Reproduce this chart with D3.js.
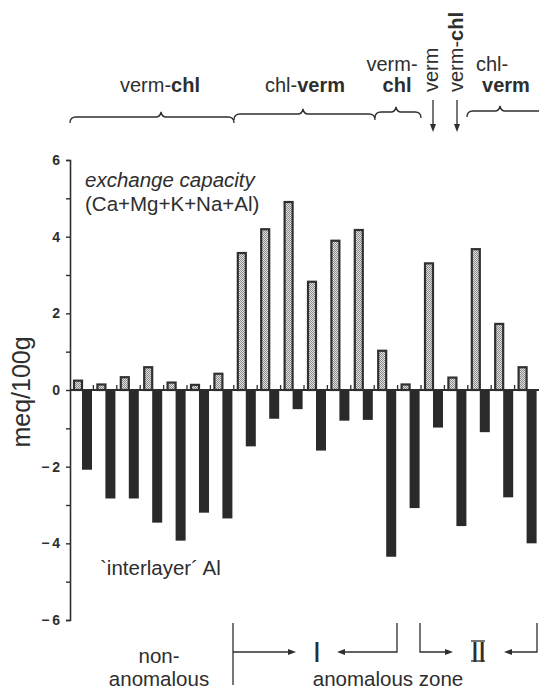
<!DOCTYPE html>
<html>
<head>
<meta charset="utf-8">
<script src="https://cdn.jsdelivr.net/npm/d3@7"></script>
<style>
  html, body { margin: 0; padding: 0; background: #fff; }
  svg { display: block; }
  text { font-family: "Liberation Sans", Arial, sans-serif; fill: #2e2e2e; }
</style>
</head>
<body>
<svg id="chart" width="539" height="689"></svg>
<script>
// Samples along the profile, left to right
const samples = d3.range(1, 21);
// Exchange capacity (Ca+Mg+K+Na+Al), meq/100g
const exchangeCapacity = [0.27, 0.17, 0.36, 0.62, 0.22, 0.16, 0.45, 3.6, 4.22, 4.93,
                          2.85, 3.92, 4.2, 1.05, 0.17, 3.33, 0.35, 3.7, 1.75, 0.62];
// 'Interlayer' Al, meq/100g (plotted downwards)
const interlayerAl = [-2.08, -2.83, -2.83, -3.46, -3.93, -3.2, -3.35, -1.47, -0.75, -0.5,
                      -1.58, -0.8, -0.78, -4.35, -3.08, -0.98, -3.55, -1.1, -2.8, -4.0];
const yTicks = [-6, -5, -4, -3, -2, -1, 0, 1, 2, 3, 4, 5, 6];
const yLabelTicks = [-6, -4, -2, 0, 2, 4, 6];

const ink = "#2e2e2e";
const svg = d3.select("#chart");

const x = d3.scaleBand().domain(samples).range([70, 538]).padding(0);
const y = d3.scaleLinear().domain([-6, 6]).range([620, 160]);

// stipple fill for the exchange-capacity bars
const defs = svg.append("defs");
const pat = defs.append("pattern").attr("id", "stipple")
  .attr("width", 2).attr("height", 2).attr("patternUnits", "userSpaceOnUse");
pat.append("rect").attr("width", 2).attr("height", 2).attr("fill", "#e2e2e2");
pat.append("rect").attr("x", 0).attr("y", 0).attr("width", 1).attr("height", 1).attr("fill", "#8a8a8a");
pat.append("rect").attr("x", 1).attr("y", 1).attr("width", 1).attr("height", 1).attr("fill", "#8a8a8a");

// y axis
const yAxis = d3.axisLeft(y).tickValues(yTicks).tickSize(4).tickPadding(6)
  .tickFormat(d => yLabelTicks.includes(d) ? (d < 0 ? "\u2212\u2009" + Math.abs(d) : d) : "");
const gy = svg.append("g").attr("transform", "translate(70,0)").call(yAxis);
gy.select(".domain").attr("stroke", ink).attr("stroke-width", 1.6);
gy.selectAll(".tick line").attr("stroke", ink).attr("stroke-width", 1.4);
gy.selectAll(".tick text").attr("font-size", 14).attr("font-weight", "bold")
  .attr("font-family", "Liberation Sans, Arial, sans-serif").attr("fill", ink);

svg.append("text")
  .attr("transform", "translate(30,392) rotate(-90)")
  .attr("text-anchor", "middle").attr("font-size", 25)
  .text("meq/100g");

// interlayer Al bars (below zero)
svg.append("g").selectAll("rect").data(samples).join("rect")
  .attr("x", d => x(d) + 12)
  .attr("y", y(0))
  .attr("width", 10)
  .attr("height", (d, i) => y(interlayerAl[i]) - y(0))
  .attr("fill", "#2a2a2a");

// exchange capacity bars (above zero)
svg.append("g").selectAll("rect").data(samples).join("rect")
  .attr("x", d => x(d) + 4)
  .attr("y", (d, i) => y(exchangeCapacity[i]) + 1)
  .attr("width", 8)
  .attr("height", (d, i) => y(0) - y(exchangeCapacity[i]) - 1)
  .attr("fill", "url(#stipple)")
  .attr("stroke", "#303030").attr("stroke-width", 2.2);

// zero line with sample separators
svg.append("line").attr("x1", 70).attr("x2", 539).attr("y1", y(0)).attr("y2", y(0))
  .attr("stroke", ink).attr("stroke-width", 1.8);
svg.append("g").selectAll("line").data(samples.slice(1)).join("line")
  .attr("x1", d => x(d)).attr("x2", d => x(d))
  .attr("y1", y(0)).attr("y2", y(0) - 5)
  .attr("stroke", ink).attr("stroke-width", 1.3);

// series labels
svg.append("text").attr("x", 85).attr("y", 187).attr("font-size", 20.5)
  .attr("font-style", "italic").text("exchange capacity");
svg.append("text").attr("x", 85).attr("y", 211).attr("font-size", 20.5)
  .text("(Ca+Mg+K+Na+Al)");
svg.append("text").attr("x", 100).attr("y", 575).attr("font-size", 20.5)
  .text("`interlayer\u00b4 Al");

// mineralogy labels above the bars
function mixed(xc, yb, parts, anchor) {
  const t = svg.append("text").attr("x", xc).attr("y", yb)
    .attr("font-size", 20).attr("text-anchor", anchor || "middle");
  parts.forEach(p => t.append("tspan").attr("font-weight", p[1] ? "bold" : "normal").text(p[0]));
  return t;
}
mixed(160, 92, [["verm-", 0], ["chl", 1]]);
mixed(305, 92, [["chl-", 0], ["verm", 1]]);
mixed(392, 71, [["verm-", 0]]);
mixed(397, 92, [["chl", 1]]);
mixed(492, 71, [["chl-", 0]]);
mixed(506, 92, [["verm", 1]]);
svg.append("text").attr("transform", "translate(438,92) rotate(-90)")
  .attr("font-size", 20).text("verm");
const vt = svg.append("text").attr("transform", "translate(463,92) rotate(-90)")
  .attr("font-size", 20);
vt.append("tspan").text("verm-");
vt.append("tspan").attr("font-weight", "bold").text("chl");

// braces
function brace(x1, x2, xm, yb) {
  const p = d3.path();
  p.moveTo(x1, yb + 6);
  p.quadraticCurveTo(x1, yb, x1 + 6, yb);
  p.lineTo(xm - 5, yb);
  p.quadraticCurveTo(xm - 1, yb, xm, yb - 5);
  p.quadraticCurveTo(xm + 1, yb, xm + 5, yb);
  p.lineTo(x2 - 6, yb);
  p.quadraticCurveTo(x2, yb, x2, yb + 6);
  svg.append("path").attr("d", p.toString()).attr("fill", "none")
    .attr("stroke", ink).attr("stroke-width", 1.3);
}
brace(70, 234, 161, 117);
brace(234, 375, 303, 114);
brace(375, 421, 396, 112);
brace(467, 560, 500, 111);

// arrowheads
function head(xt, yt, dir) {
  let pts;
  if (dir === "down") pts = [[xt, yt], [xt - 3, yt - 8], [xt + 3, yt - 8]];
  if (dir === "right") pts = [[xt, yt], [xt - 8, yt - 3], [xt - 8, yt + 3]];
  if (dir === "left") pts = [[xt, yt], [xt + 8, yt - 3], [xt + 8, yt + 3]];
  svg.append("path").attr("d", d3.line()(pts) + "Z").attr("fill", ink);
}
function line(pts) {
  svg.append("path").attr("d", d3.line()(pts)).attr("fill", "none")
    .attr("stroke", ink).attr("stroke-width", 1.3);
}
line([[433, 100], [433, 128]]); head(433, 132, "down");
line([[457, 100], [457, 128]]); head(457, 132, "down");

// zone markers below the axis
line([[233, 623], [233, 685]]);
line([[233, 652], [291, 652]]); head(296, 652, "right");
line([[397, 623], [397, 652], [342, 652]]); head(337, 652, "left");
line([[420, 623], [420, 652], [448, 652]]); head(453, 652, "right");
line([[537, 623], [537, 652], [509, 652]]); head(504, 652, "left");

svg.append("text").attr("x", 317).attr("y", 662).attr("text-anchor", "middle")
  .attr("font-family", "Liberation Serif, serif").attr("font-size", 30).text("I");
svg.append("text").attr("x", 478).attr("y", 662).attr("text-anchor", "middle")
  .attr("font-family", "Liberation Serif, serif").attr("font-size", 30)
  .attr("letter-spacing", -1).text("II");
line([[471, 641], [485, 641]]);
line([[471, 661], [485, 661]]);

svg.append("text").attr("x", 159).attr("y", 663).attr("text-anchor", "middle")
  .attr("font-size", 20.5).text("non-");
svg.append("text").attr("x", 159).attr("y", 686).attr("text-anchor", "middle")
  .attr("font-size", 20.5).text("anomalous");
svg.append("text").attr("x", 388).attr("y", 686).attr("text-anchor", "middle")
  .attr("font-size", 20.5).text("anomalous zone");
</script>
</body>
</html>
